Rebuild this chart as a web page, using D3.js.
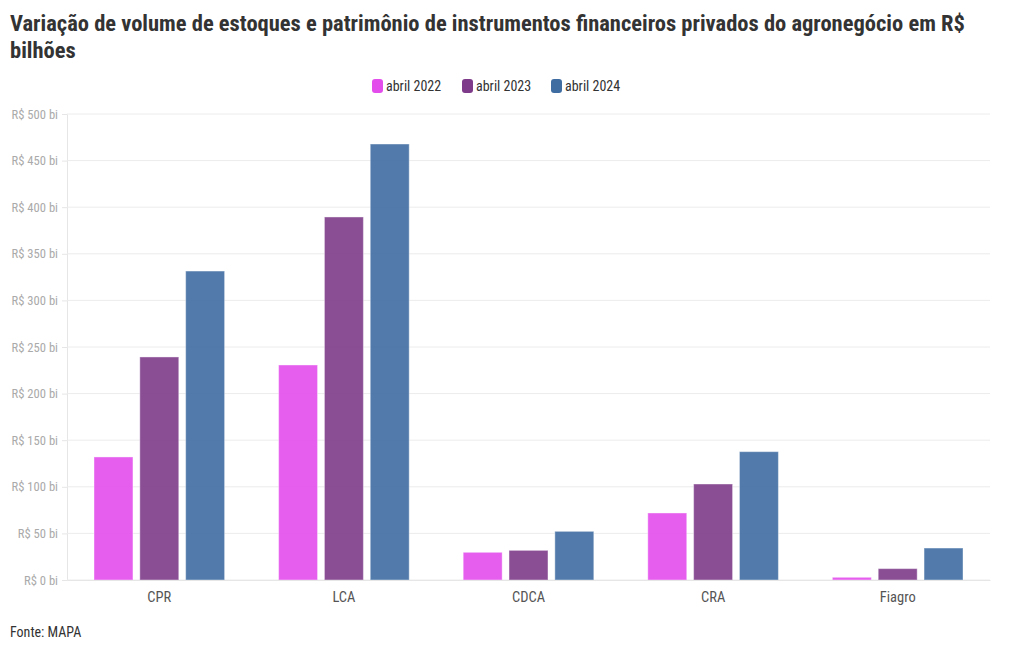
<!DOCTYPE html>
<html><head><meta charset="utf-8">
<script src="https://cdn.jsdelivr.net/npm/d3@7/dist/d3.min.js"></script>
<style>
body{margin:0;background:#fff;}
text{font-family:"Roboto Condensed","Liberation Sans Narrow","Roboto",sans-serif;}
</style></head>
<body>
<svg id="c" width="1020" height="650"></svg>
<script>
const categories = ["CPR","LCA","CDCA","CRA","Fiagro"];
const seriesNames = ["abril 2022","abril 2023","abril 2024"];
const values2022 = [132, 230.7, 29.7, 71.9, 2.9];
const values2023 = [239.3, 389.5, 31.8, 103, 12.2];
const values2024 = [331.5, 467.8, 52.2, 137.7, 34.3];
const yTicks = [0,50,100,150,200,250,300,350,400,450,500];
const colors = ["#E34DEC","#7D3B89","#3F6DA2"];
const titleLines = ["Variação de volume de estoques e patrimônio de instrumentos financeiros privados do agronegócio em R$","bilhões"];
const source = "Fonte: MAPA";

const seriesVals = [values2022, values2023, values2024];
const svg = d3.select("#c");
const L = 67, R = 990, T = 114, B = 580;
const FF = '"Roboto Condensed","Liberation Sans Narrow","Roboto",sans-serif';

const y = d3.scaleLinear().domain([0,500]).range([B,T]);
const x0 = d3.scaleBand().domain(categories).range([L,R]).padding(0);
const inset = 27;
const x1 = d3.scaleBand().domain(seriesNames).range([inset, x0.bandwidth()-inset]).paddingInner(0.15).paddingOuter(0);

// title
const tt = svg.append("text").attr("x",10).attr("y",31).attr("font-size",22.5).attr("font-weight",700).attr("fill","#333");
titleLines.forEach((l,i)=>tt.append("tspan").attr("x",10).attr("dy", i===0?0:26.5).text(l));

// grid
const yAxis = d3.axisLeft(y).tickValues(yTicks).tickSize(5).tickPadding(4).tickFormat(d=>`R$ ${d} bi`);
const ga = svg.append("g").attr("transform",`translate(${L},0)`).call(yAxis);
ga.select(".domain").attr("stroke","#e6e6e6");
ga.selectAll(".tick line").attr("stroke","#e6e6e6");
ga.selectAll(".tick text").attr("fill","#aaa").attr("font-size",12.6).style("font-family",FF);
svg.append("g").selectAll("line").data(yTicks).join("line")
  .attr("x1",L).attr("x2",R).attr("y1",d=>y(d)).attr("y2",d=>y(d))
  .attr("stroke","#ececec").attr("stroke-width",1);

// bars
const g = svg.append("g");
categories.forEach((c,ci)=>{
  seriesNames.forEach((s,si)=>{
    const v = seriesVals[si][ci];
    g.append("rect")
      .attr("x", x0(c)+x1(s)).attr("width", x1.bandwidth())
      .attr("y", y(v)).attr("height", y(0)-y(v))
      .attr("fill", colors[si]).attr("fill-opacity",0.9)
      .attr("stroke","#ffffff").attr("stroke-opacity",0.4).attr("stroke-width",1);
  });
});

// x axis
const xAxis = d3.axisBottom(x0).tickSize(0).tickPadding(12);
const gx = svg.append("g").attr("transform",`translate(0,${B})`).call(xAxis);
gx.select(".domain").attr("stroke","#e6e6e6");
gx.selectAll(".tick text").attr("fill","#555").attr("font-size",14.5).style("font-family",FF);

// legend
const legX = [372, 462, 551];
const lg = svg.append("g");
seriesNames.forEach((s,i)=>{
  lg.append("rect").attr("x",legX[i]).attr("y",79).attr("width",11).attr("height",14).attr("rx",3).attr("fill",colors[i]);
  lg.append("text").attr("x",legX[i]+14).attr("y",91).attr("font-size",14).attr("fill","#333").text(s);
});

// source
svg.append("text").attr("x",10).attr("y",637).attr("font-size",14).attr("fill","#333").text(source);
</script>
</body></html>
